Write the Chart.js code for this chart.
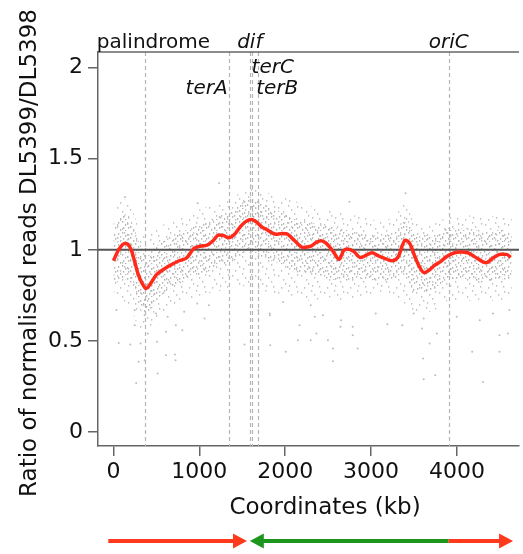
<!DOCTYPE html>
<html><head><meta charset="utf-8">
<script src="https://cdn.jsdelivr.net/npm/chart.js@4"></script>
<style>html,body{margin:0;padding:0;background:#fff;overflow:hidden}</style>
</head><body>
<canvas id="c" width="523" height="554"></canvas>
<script>
// ---------- data ----------
const xTickValues = [0, 1000, 2000, 3000, 4000];
const yTickValues = [0, 0.5, 1, 1.5, 2];
const xTitle = 'Coordinates (kb)';
const yTitle = 'Ratio of normalised reads DL5399/DL5398';

const curveKb = [0,60,131,170,208,250,285,330,381,440,496,560,631,700,765,850,938,1010,1092,1160,1226,1285,1342,1410,1476,1540,1610,1672,1730,1783,1840,1899,1960,2014,2110,2206,2300,2360,2417,2479,2560,2628,2680,2725,2800,2878,2940,3013,3074,3150,3243,3320,3397,3450,3512,3560,3620,3680,3743,3810,3877,3973,4050,4127,4230,4339,4420,4512,4580,4627];
const curveRatio = [0.94,1.0,1.035,1.03,0.998,0.93,0.87,0.82,0.788,0.82,0.861,0.885,0.907,0.925,0.94,0.955,1.008,1.02,1.026,1.05,1.081,1.078,1.066,1.085,1.126,1.155,1.167,1.15,1.125,1.112,1.095,1.085,1.09,1.088,1.05,1.013,1.02,1.04,1.05,1.035,0.99,0.947,0.995,1.005,0.99,0.958,0.97,0.984,0.97,0.955,0.94,0.965,1.053,1.035,0.962,0.91,0.874,0.89,0.916,0.935,0.962,0.984,0.988,0.984,0.955,0.929,0.955,0.976,0.975,0.958];

// envelope of the grey read cloud (outer = sparse extent, core = dense part)
const cloudKb        = [0,100,200,300,400,500,700,900,1100,1300,1500,1600,1700,1900,2100,2300,2500,2700,2900,3100,3300,3400,3500,3700,3900,4100,4300,4500,4640];
const cloudOuterHigh = [1.22,1.28,1.24,1.12,1.08,1.12,1.16,1.2,1.24,1.27,1.32,1.36,1.33,1.30,1.27,1.24,1.22,1.2,1.18,1.16,1.2,1.26,1.16,1.14,1.18,1.19,1.18,1.19,1.18];
const cloudOuterLow  = [0.72,0.72,0.68,0.57,0.56,0.62,0.70,0.73,0.76,0.78,0.80,0.80,0.78,0.76,0.74,0.72,0.74,0.72,0.74,0.76,0.74,0.70,0.66,0.66,0.72,0.72,0.72,0.72,0.72];
const cloudCoreHigh  = [1.1,1.2,1.17,1.04,0.97,1.02,1.08,1.12,1.16,1.2,1.26,1.29,1.26,1.22,1.17,1.15,1.13,1.11,1.09,1.08,1.11,1.18,1.1,1.08,1.12,1.12,1.1,1.11,1.1];
const cloudCoreLow   = [0.8,0.84,0.82,0.68,0.64,0.72,0.8,0.84,0.88,0.92,0.96,0.98,0.96,0.93,0.88,0.87,0.84,0.83,0.84,0.83,0.84,0.86,0.77,0.77,0.84,0.84,0.82,0.84,0.83];

// isolated reads outside the cloud
const outlierKb    = [35,62,196,265,293,316,362,515,611,715,723,611,507,247,803,1061,1526,1821,1826,2006,2149,2167,2298,2344,2363,2498,2556,2556,2644,2786,2844,3593,3605,3613,3682,3747,4177,4304,4496,4496,4593,1230,1595,3401,2749,135,980,2298,2440,2651,2786,3055,3190,3363,3497,3613,3766,3997,4266,4420,4611,247,362,400,496,631,727,823,976,1111,1688,1821,1976];
const outlierRatio = [0.669,0.489,0.48,0.269,0.385,0.486,0.394,0.321,0.421,0.425,0.394,0.55,0.495,0.586,0.559,0.623,0.48,0.641,0.476,0.44,0.504,0.586,0.504,0.632,0.54,0.504,0.458,0.388,0.577,0.531,0.458,0.568,0.403,0.29,0.486,0.312,0.44,0.275,0.44,0.531,0.54,1.365,1.42,1.31,1.264,1.29,1.255,0.696,0.641,0.614,0.577,0.651,0.592,0.586,0.651,0.623,0.54,0.632,0.614,0.651,0.669,0.669,0.641,0.54,0.651,0.632,0.586,0.66,0.705,0.696,0.669,0.651,0.714];

const markerNames = ['palindrome','terA','dif','terC','terB','oriC'];
const markerKb    = [373,1341,1588,1609,1686,3904];
const referenceRatio = 1;

// replichore arrows (kb)
const replichoreFrom  = [-60, 1588, 3904];
const replichoreTo    = [1555, 3904, 4654];
const replichoreColor = ['#ff3a1c', '#1d961d', '#ff3a1c'];
const replichoreHead  = ['end', 'start', 'end'];

// ---------- styles ----------
const FONT = 'DejaVu Sans';
const xMin = -180, xMax = 4723, yMin = -0.077, yMax = 2.086;
const labelStyle = {
  palindrome: {dx: 8,  y: 48, align: 'center', italic: false},
  terA:       {dx: -1, y: 94, align: 'right',  italic: true},
  dif:        {dx: 0,  y: 48, align: 'center', italic: true},
  terC:       {dx: 0,  y: 73, align: 'left',   italic: true},
  terB:       {dx: -2, y: 94, align: 'left',   italic: true},
  oriC:       {dx: 0,  y: 48, align: 'center', italic: true}
};

function makePattern(w, h, dots, color, s) {
  const c = document.createElement('canvas'); c.width = w; c.height = h;
  const g = c.getContext('2d'); g.fillStyle = color;
  dots.forEach(d => g.fillRect(d[0], d[1], s, s + 0.4));
  return document.getElementById('c').getContext('2d').createPattern(c, 'repeat');
}
const sparsePattern = makePattern(23, 17, [[2,3],[9,11],[15,5],[20,14],[5,15],[18,9],[12,1],[21,2],[7,7],[13,13]], '#c2c2c2', 1.3);
const densePattern  = makePattern(13, 11, [[1,2],[6,7],[10,3],[3,9],[8,10],[11,7],[5,1],[0,6],[8,4]], '#b4b4b4', 1.3);

const pts = (xs, ys) => xs.map((v, i) => ({x: v, y: ys[i]}));

const overlay = {
  id: 'overlay',
  beforeDatasetsDraw(chart) {
    const {ctx, chartArea: a, scales: {x}} = chart;
    ctx.save();
    ctx.beginPath(); ctx.rect(a.left, a.top, a.right - a.left, a.bottom - a.top); ctx.clip();
    ctx.strokeStyle = '#b5b5b5'; ctx.lineWidth = 1.2; ctx.setLineDash([4, 3]);
    markerKb.forEach(k => {
      const px = Math.round(x.getPixelForValue(k)) + 0.5;
      ctx.beginPath(); ctx.moveTo(px, a.top); ctx.lineTo(px, a.bottom); ctx.stroke();
    });
    ctx.restore();
  },
  afterDatasetDraw(chart, args) {
    if (args.index !== 2) return;
    const {ctx, chartArea: a, scales: {y}} = chart;
    const py = y.getPixelForValue(referenceRatio);
    ctx.save(); ctx.strokeStyle = '#555'; ctx.lineWidth = 2;
    ctx.beginPath(); ctx.moveTo(a.left, py); ctx.lineTo(a.right, py); ctx.stroke();
    ctx.restore();
  },
  afterDraw(chart) {
    const {ctx, chartArea: a, scales: {x}} = chart;
    ctx.save();
    ctx.strokeStyle = '#666'; ctx.lineWidth = 1.5;
    ctx.beginPath(); ctx.moveTo(a.left, a.top); ctx.lineTo(a.right, a.top); ctx.stroke();
    ctx.fillStyle = '#111'; ctx.textBaseline = 'alphabetic';
    markerNames.forEach((n, i) => {
      const st = labelStyle[n];
      ctx.font = (st.italic ? 'italic ' : '') + '20px "' + FONT + '"';
      ctx.textAlign = st.align;
      ctx.fillText(n, x.getPixelForValue(markerKb[i]) + st.dx, st.y);
    });
    ctx.font = '23px "' + FONT + '"'; ctx.textAlign = 'center'; ctx.textBaseline = 'middle';
    ctx.fillText(xTitle, 325, 508);
    ctx.save(); ctx.translate(30, 253); ctx.rotate(-Math.PI / 2); ctx.fillText(yTitle, 0, 0); ctx.restore();
    const ay = 541, head = 14, hw = 7.5;
    replichoreFrom.forEach((f, i) => {
      const x0 = x.getPixelForValue(f), x1 = x.getPixelForValue(replichoreTo[i]);
      ctx.strokeStyle = ctx.fillStyle = replichoreColor[i]; ctx.lineWidth = 4;
      ctx.beginPath();
      if (replichoreHead[i] === 'end') { ctx.moveTo(x0, ay); ctx.lineTo(x1 - head + 2, ay); }
      else { ctx.moveTo(x0 + head - 2, ay); ctx.lineTo(x1, ay); }
      ctx.stroke();
      ctx.beginPath();
      if (replichoreHead[i] === 'end') { ctx.moveTo(x1, ay); ctx.lineTo(x1 - head, ay - hw); ctx.lineTo(x1 - head, ay + hw); }
      else { ctx.moveTo(x0, ay); ctx.lineTo(x0 + head, ay - hw); ctx.lineTo(x0 + head, ay + hw); }
      ctx.closePath(); ctx.fill();
    });
    ctx.restore();
  }
};

const band = {borderWidth: 0, pointRadius: 0, tension: 0.4, cubicInterpolationMode: 'monotone', showLine: true};

new Chart(document.getElementById('c'), {
  type: 'line',
  data: {
    datasets: [
      {data: pts(curveKb, curveRatio), borderColor: '#ff2a1a', borderWidth: 3.5, pointRadius: 0, cubicInterpolationMode: 'monotone', fill: false, order: 0},
      {data: [], order: 1, pointRadius: 0, borderWidth: 0},
      {type: 'scatter', data: pts(outlierKb, outlierRatio), backgroundColor: '#bcbcbc', borderWidth: 0, pointRadius: 1, order: 2},
      Object.assign({data: pts(cloudKb, cloudCoreHigh), fill: '+1', backgroundColor: densePattern, order: 3}, band),
      Object.assign({data: pts(cloudKb, cloudCoreLow), fill: false, order: 3}, band),
      Object.assign({data: pts(cloudKb, cloudOuterHigh), fill: '+1', backgroundColor: sparsePattern, order: 5}, band),
      Object.assign({data: pts(cloudKb, cloudOuterLow), fill: false, order: 5}, band)
    ]
  },
  options: {
    responsive: false, animation: false, devicePixelRatio: 1,
    layout: {padding: {top: 52, left: 0, right: 0, bottom: 0}},
    plugins: {legend: {display: false}, tooltip: {enabled: false}},
    scales: {
      x: {
        type: 'linear', min: xMin, max: xMax,
        afterBuildTicks: s => { s.ticks = xTickValues.map(v => ({value: v})); },
        afterFit: s => { s.height = 108; },
        ticks: {font: {family: FONT, size: 22}, color: '#111', padding: 3, maxRotation: 0, autoSkip: false, callback: v => String(v)},
        grid: {drawOnChartArea: false, drawTicks: true, tickLength: 10, color: '#666', lineWidth: 1.5},
        border: {color: '#666', width: 1.5}
      },
      y: {
        type: 'linear', min: yMin, max: yMax,
        afterBuildTicks: s => { s.ticks = yTickValues.map(v => ({value: v})); },
        afterFit: s => { s.width = 98; },
        ticks: {font: {family: FONT, size: 22}, color: '#111', padding: 5, autoSkip: false, callback: v => String(v)},
        grid: {drawOnChartArea: false, drawTicks: true, tickLength: 10, color: '#666', lineWidth: 1.5},
        border: {color: '#666', width: 1.5}
      }
    }
  },
  plugins: [overlay]
});
</script>
</body></html>
